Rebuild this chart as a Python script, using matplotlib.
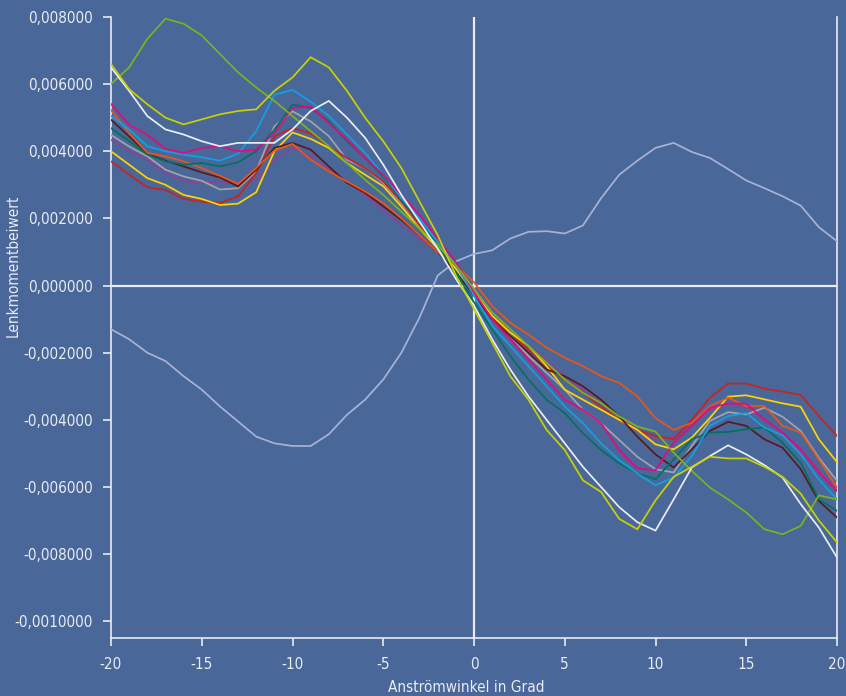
import numpy as np
import matplotlib
matplotlib.use("Agg")
import matplotlib.pyplot as plt

plt.rcParams['font.family'] = ['DejaVu Sans']
plt.rcParams['font.stretch'] = 'condensed'

# Anströmwinkel (deg)
angles = list(range(-20, 21))

# Lenkmomentbeiwert values, in units of 1e-3
lime = [6.6, 5.85, 5.4, 5.0, 4.8, 4.95, 5.1, 5.2, 5.25, 5.8, 6.2, 6.8, 6.5, 5.8, 5.0, 4.3, 3.5, 2.5, 1.5, 0.3,
        -0.7, -1.7, -2.7, -3.4, -4.3, -4.9, -5.8, -6.15, -6.95, -7.26, -6.4, -5.7, -5.4, -5.1, -5.15, -5.15,
        -5.4, -5.7, -6.2, -7.0, -7.65]
green = [6.0, 6.5, 7.35, 7.95, 7.8, 7.45, 6.9, 6.35, 5.9, 5.5, 5.05, 4.6, 4.15, 3.65, 3.15, 2.7, 2.2, 1.7, 1.2, 0.6,
         -0.1, -0.8, -1.3, -1.8, -2.3, -2.8, -3.2, -3.5, -3.9, -4.2, -4.35, -4.98, -5.52, -6.02, -6.37, -6.76,
         -7.26, -7.41, -7.16, -6.25, -6.37]
white = [6.5, 5.8, 5.05, 4.65, 4.5, 4.3, 4.15, 4.25, 4.25, 4.25, 4.65, 5.2, 5.5, 5.0, 4.4, 3.6, 2.7, 1.9, 1.1, 0.2,
         -0.6, -1.6, -2.5, -3.3, -4.0, -4.7, -5.4, -6.0, -6.6, -7.05, -7.3, -6.37, -5.42, -5.08, -4.76, -5.03,
         -5.35, -5.72, -6.51, -7.21, -8.1]
lavender = [-1.3, -1.6, -2.0, -2.25, -2.7, -3.1, -3.6, -4.05, -4.5, -4.7, -4.78, -4.78, -4.43, -3.85, -3.4, -2.8,
            -2.0, -0.95, 0.3, 0.72, 0.94, 1.05, 1.4, 1.6, 1.62, 1.55, 1.79, 2.6, 3.3, 3.72, 4.1, 4.25, 3.98, 3.8,
            3.47, 3.13, 2.9, 2.66, 2.38, 1.74, 1.32]
cyan = [5.05, 4.65, 4.15, 4.0, 3.9, 3.82, 3.72, 3.93, 4.6, 5.68, 5.83, 5.48, 5.05, 4.5, 3.95, 3.3, 2.6, 2.0, 1.3, 0.6,
        -0.3, -1.2, -1.8, -2.4, -3.0, -3.6, -4.1, -4.7, -5.2, -5.6, -5.95, -5.72, -5.08, -4.18, -3.89, -3.8,
        -4.23, -4.46, -5.03, -5.77, -6.37]
magenta = [5.41, 4.79, 4.49, 4.07, 3.95, 4.1, 4.15, 4.0, 4.05, 4.54, 5.29, 5.34, 4.84, 4.35, 3.8, 3.3, 2.7, 2.1, 1.4,
           0.7, -0.2, -1.0, -1.6, -2.2, -2.8, -3.4, -3.7, -4.1, -4.9, -5.45, -5.5, -4.68, -4.18, -3.64, -3.52,
           -3.52, -3.99, -4.38, -4.88, -5.57, -6.12]
teal = [4.69, 4.3, 3.9, 3.7, 3.6, 3.65, 3.55, 3.67, 4.0, 4.64, 5.39, 5.29, 4.89, 4.3, 3.8, 3.25, 2.55, 1.9, 1.2, 0.4,
        -0.5, -1.3, -2.1, -2.8, -3.4, -3.8, -4.4, -4.9, -5.3, -5.6, -5.77, -5.18, -4.58, -4.38, -4.36, -4.28,
        -4.23, -4.68, -5.28, -6.37, -6.71]
orange = [5.23, 4.54, 3.95, 3.85, 3.7, 3.5, 3.27, 3.03, 3.5, 4.02, 4.22, 3.75, 3.4, 3.1, 2.8, 2.46, 2.0, 1.5, 1.0,
          0.6, 0.1, -0.61, -1.11, -1.46, -1.85, -2.15, -2.4, -2.7, -2.9, -3.3, -3.95, -4.3, -4.09, -3.59, -3.34,
          -3.59, -3.59, -4.18, -4.38, -5.18, -6.02]
maroon = [4.94, 4.44, 3.93, 3.72, 3.55, 3.37, 3.22, 2.95, 3.45, 4.1, 4.25, 4.05, 3.55, 3.06, 2.76, 2.36, 1.95, 1.5,
          1.0, 0.4, -0.3, -1.0, -1.5, -2.0, -2.5, -2.7, -3.0, -3.4, -3.9, -4.5, -5.03, -5.42, -4.88, -4.33, -4.06,
          -4.18, -4.58, -4.83, -5.47, -6.42, -6.91]
grey = [4.49, 4.14, 3.85, 3.45, 3.25, 3.12, 2.86, 2.9, 3.4, 4.74, 5.19, 4.89, 4.45, 3.75, 3.5, 3.06, 2.45, 1.8, 1.2,
        0.5, -0.3, -0.96, -1.5, -2.1, -2.6, -3.1, -3.7, -4.1, -4.6, -5.1, -5.47, -5.57, -4.78, -4.03, -3.77, -3.84,
        -3.64, -3.91, -4.33, -5.13, -5.82]
purple = [4.34, 4.0, 3.75, 3.35, 3.1, 3.05, 3.1, 3.03, 3.15, 3.75, 4.1, 3.85, 3.45, 3.1, 2.7, 2.25, 1.8, 1.4, 1.0,
          0.5, -0.1, -0.8, -1.3, -1.8, -2.2, -2.7, -3.1, -3.5, -3.9, -4.3, -4.6, -4.5, -4.1, -3.7, -3.5, -3.6,
          -4.0, -4.4, -4.9, -5.5, -6.1]
yellow = [4.0, 3.6, 3.2, 3.0, 2.7, 2.58, 2.4, 2.44, 2.78, 4.0, 4.56, 4.37, 4.1, 3.65, 3.3, 2.96, 2.35, 1.7, 1.1, 0.5,
          -0.2, -0.9, -1.4, -1.8, -2.4, -3.1, -3.4, -3.7, -4.0, -4.3, -4.73, -4.88, -4.53, -3.94, -3.31, -3.27,
          -3.39, -3.51, -3.61, -4.58, -5.26]
red = [3.7, 3.3, 2.93, 2.85, 2.58, 2.5, 2.46, 2.66, 3.35, 4.44, 4.69, 4.54, 4.15, 3.8, 3.5, 3.1, 2.5, 1.8, 1.2, 0.6,
       -0.2, -0.96, -1.4, -1.9, -2.4, -2.8, -3.2, -3.6, -4.0, -4.3, -4.48, -4.58, -4.0, -3.34, -2.92, -2.92, -3.07,
       -3.16, -3.26, -3.89, -4.48]

series = [
    (lavender, '#a8b2d6'),
    (purple, '#8e4294'),
    (grey, '#a3a3ab'),
    (red, '#c8231e'),
    (yellow, '#ffd400'),
    (maroon, '#5a1a1c'),
    (orange, '#e8561a'),
    (teal, '#00725f'),
    (cyan, '#13a0e0'),
    (magenta, '#e5087e'),
    (green, '#78b41e'),
    (white, '#e8edf6'),
    (lime, '#c8d200'),
]

yticks = [0.008, 0.006, 0.004, 0.002, 0.0, -0.002, -0.004, -0.006, -0.008, -0.010]
ytick_labels = ['0,008000', '0,006000', '0,004000', '0,002000', '0,000000', '-0,002000',
                '-0,004000', '-0,006000', '-0,008000', '-0,0010000']
xticks = [-20, -15, -10, -5, 0, 5, 10, 15, 20]

bg = '#4a6799'
fg = '#e8ecf4'

fig = plt.figure(figsize=(8.46, 6.96), dpi=100, facecolor=bg)
ax = fig.add_axes([111 / 846, 58 / 696, 726 / 846, 621 / 696], facecolor=bg)

x = np.array(angles)
for vals, col in series:
    ax.plot(x, np.array(vals) * 1e-3, color=col, lw=1.25, solid_joinstyle='miter', zorder=3)

ax.axhline(0, color=fg, lw=1.6, zorder=2)
ax.axvline(0, color=fg, lw=1.6, zorder=2)

ax.set_xlim(-20, 20)
ax.set_ylim(-0.0105, 0.008)
ax.set_xticks(xticks)
ax.set_xticklabels([str(t) for t in xticks])
ax.set_yticks(yticks)
ax.set_yticklabels(ytick_labels)

ax.spines['top'].set_visible(False)
for s in ['left', 'bottom', 'right']:
    ax.spines[s].set_color(fg)
    ax.spines[s].set_linewidth(1.2)

ax.tick_params(axis='both', colors=fg, labelcolor=fg, labelsize=11, length=6, width=1.2,
               direction='out')
ax.tick_params(axis='y', pad=7)
ax.tick_params(axis='x', pad=8)
for lab in ax.get_xticklabels() + ax.get_yticklabels():
    lab.set_fontstretch('condensed')

ax.set_xlabel('Anströmwinkel in Grad', color=fg, fontsize=11, fontstretch='condensed')
ax.set_ylabel('Lenkmomentbeiwert', color=fg, fontsize=11, fontstretch='condensed')
ax.xaxis.set_label_coords(0.49, -0.068)
ax.yaxis.set_label_coords(-0.124, 0.6)

fig.savefig('out.png', dpi=100, facecolor=bg)
